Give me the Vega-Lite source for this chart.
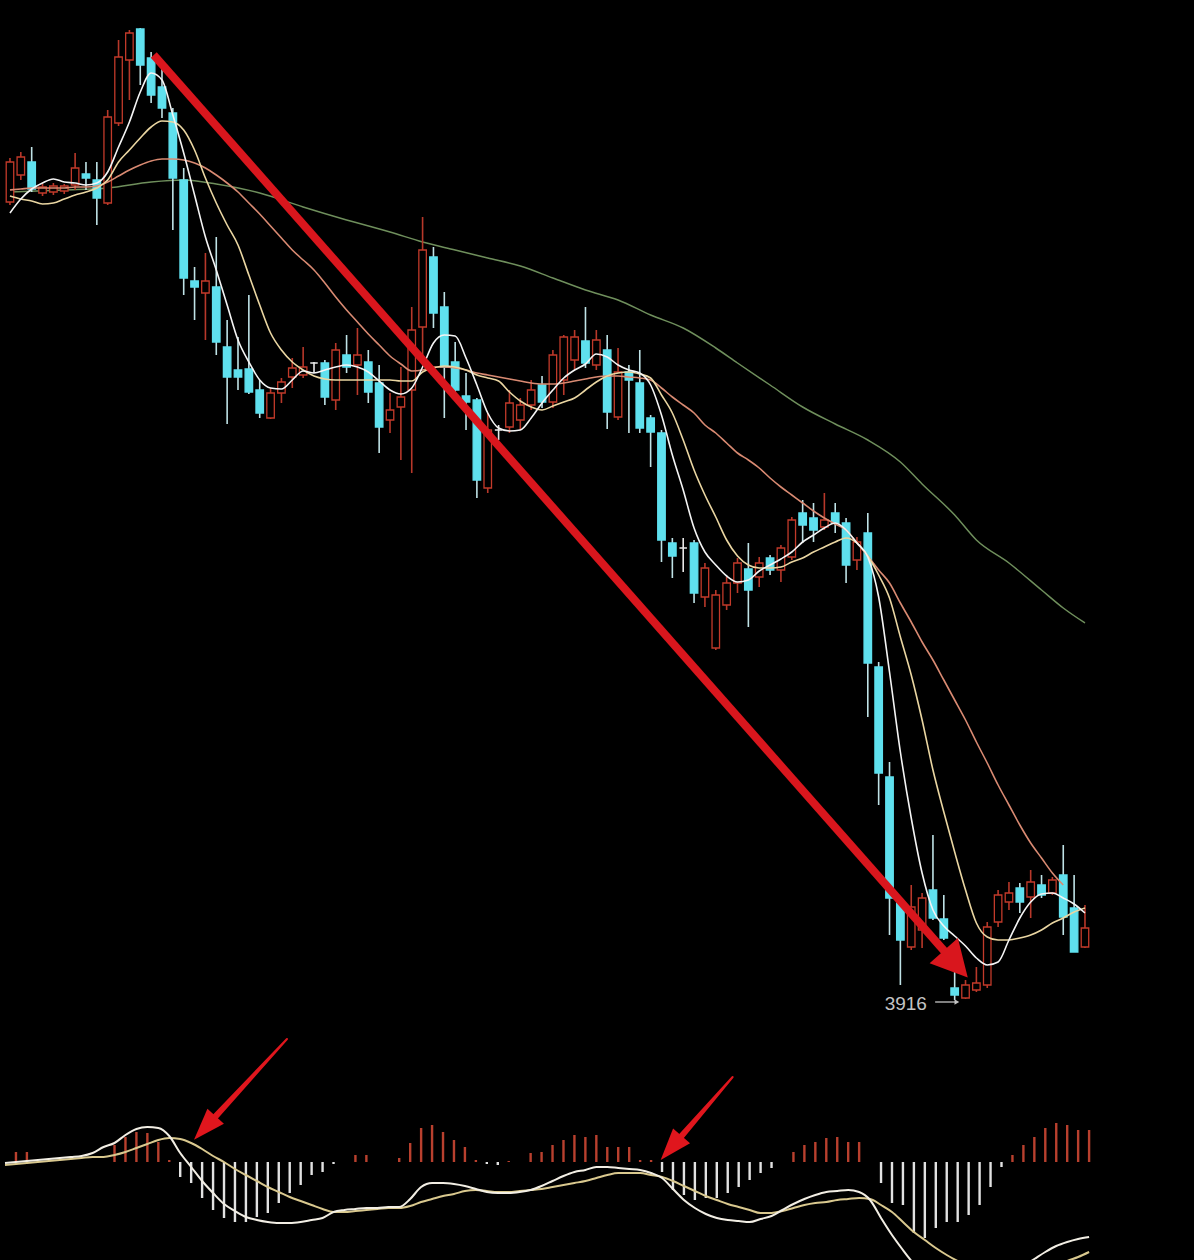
{
  "$schema": "https://vega.github.io/schema/vega-lite/v6.json",
  "background": "#000000",
  "padding": 0,
  "spacing": 0,
  "bounds": "flush",
  "config": {"view": {"stroke": null}, "axis": {"disable": true}, "legend": {"disable": true}, "concat": {"spacing": 0}},
  "datasets": {
    "k": [
      {"d":0,"o":4714,"h":4758,"l":4711,"c":4754,"m5":4703,"m10":4720,"m20":4726},
      {"d":1,"o":4741,"h":4764,"l":4736,"c":4759,"m5":4717,"m10":4717,"m20":4727},
      {"d":2,"o":4754,"h":4769,"l":4724,"c":4727,"m5":4727,"m10":4715,"m20":4728},
      {"d":3,"o":4723,"h":4732,"l":4720,"c":4729,"m5":4733,"m10":4712,"m20":4728},
      {"d":4,"o":4724,"h":4733,"l":4721,"c":4730,"m5":4737,"m10":4713,"m20":4728},
      {"d":5,"o":4725,"h":4732,"l":4722,"c":4730,"m5":4734,"m10":4717,"m20":4728},
      {"d":6,"o":4731,"h":4763,"l":4726,"c":4748,"m5":4733,"m10":4721,"m20":4729},
      {"d":7,"o":4742,"h":4754,"l":4726,"c":4738,"m5":4731,"m10":4724,"m20":4729},
      {"d":8,"o":4736,"h":4754,"l":4691,"c":4718,"m5":4733,"m10":4728,"m20":4730},
      {"d":9,"o":4713,"h":4806,"l":4711,"c":4799,"m5":4744,"m10":4736,"m20":4734},
      {"d":10,"o":4793,"h":4876,"l":4790,"c":4859,"m5":4769,"m10":4754,"m20":4740},
      {"d":11,"o":4856,"h":4886,"l":4816,"c":4883,"m5":4794,"m10":4766,"m20":4746},
      {"d":12,"o":4887,"h":4888,"l":4831,"c":4851,"m5":4824,"m10":4778,"m20":4751},
      {"d":13,"o":4858,"h":4864,"l":4813,"c":4821,"m5":4843,"m10":4789,"m20":4755},
      {"d":14,"o":4829,"h":4854,"l":4798,"c":4808,"m5":4836,"m10":4795,"m20":4757},
      {"d":15,"o":4803,"h":4808,"l":4686,"c":4738,"m5":4801,"m10":4794,"m20":4757},
      {"d":16,"o":4736,"h":4748,"l":4621,"c":4638,"m5":4763,"m10":4786,"m20":4756},
      {"d":17,"o":4635,"h":4649,"l":4596,"c":4629,"m5":4721,"m10":4766,"m20":4753},
      {"d":18,"o":4623,"h":4663,"l":4576,"c":4635,"m5":4679,"m10":4738,"m20":4748},
      {"d":19,"o":4629,"h":4679,"l":4561,"c":4574,"m5":4646,"m10":4713,"m20":4741},
      {"d":20,"o":4569,"h":4596,"l":4492,"c":4539,"m5":4611,"m10":4691,"m20":4733},
      {"d":21,"o":4546,"h":4579,"l":4526,"c":4539,"m5":4576,"m10":4671,"m20":4724},
      {"d":22,"o":4547,"h":4621,"l":4522,"c":4524,"m5":4554,"m10":4641,"m20":4713},
      {"d":23,"o":4526,"h":4536,"l":4498,"c":4503,"m5":4536,"m10":4611,"m20":4702},
      {"d":24,"o":4498,"h":4528,"l":4497,"c":4523,"m5":4528,"m10":4583,"m20":4690},
      {"d":25,"o":4523,"h":4538,"l":4513,"c":4534,"m5":4527,"m10":4566,"m20":4678},
      {"d":26,"o":4539,"h":4558,"l":4528,"c":4548,"m5":4536,"m10":4554,"m20":4666},
      {"d":27,"o":4541,"h":4569,"l":4538,"c":4549,"m5":4545,"m10":4546,"m20":4656},
      {"d":28,"o":4553,"h":4554,"l":4543,"c":4553,"m5":4543,"m10":4540,"m20":4646},
      {"d":29,"o":4553,"h":4556,"l":4511,"c":4519,"m5":4546,"m10":4537,"m20":4633},
      {"d":30,"o":4516,"h":4573,"l":4506,"c":4566,"m5":4549,"m10":4536,"m20":4619},
      {"d":31,"o":4561,"h":4581,"l":4543,"c":4549,"m5":4551,"m10":4536,"m20":4606},
      {"d":32,"o":4551,"h":4588,"l":4521,"c":4561,"m5":4549,"m10":4536,"m20":4594},
      {"d":33,"o":4554,"h":4566,"l":4513,"c":4524,"m5":4544,"m10":4536,"m20":4582},
      {"d":34,"o":4533,"h":4551,"l":4463,"c":4489,"m5":4535,"m10":4536,"m20":4571},
      {"d":35,"o":4496,"h":4523,"l":4483,"c":4506,"m5":4526,"m10":4536,"m20":4560},
      {"d":36,"o":4509,"h":4549,"l":4456,"c":4519,"m5":4522,"m10":4535,"m20":4552},
      {"d":37,"o":4526,"h":4609,"l":4443,"c":4586,"m5":4528,"m10":4535,"m20":4545},
      {"d":38,"o":4589,"h":4699,"l":4559,"c":4666,"m5":4549,"m10":4544,"m20":4546},
      {"d":39,"o":4659,"h":4669,"l":4588,"c":4603,"m5":4573,"m10":4548,"m20":4549},
      {"d":40,"o":4609,"h":4624,"l":4498,"c":4549,"m5":4581,"m10":4550,"m20":4549},
      {"d":41,"o":4554,"h":4574,"l":4524,"c":4526,"m5":4580,"m10":4549,"m20":4548},
      {"d":42,"o":4520,"h":4543,"l":4486,"c":4514,"m5":4558,"m10":4546,"m20":4546},
      {"d":43,"o":4516,"h":4518,"l":4418,"c":4436,"m5":4531,"m10":4541,"m20":4543},
      {"d":44,"o":4428,"h":4503,"l":4423,"c":4486,"m5":4503,"m10":4538,"m20":4541},
      {"d":45,"o":4486,"h":4491,"l":4476,"c":4486,"m5":4488,"m10":4535,"m20":4539},
      {"d":46,"o":4489,"h":4526,"l":4483,"c":4513,"m5":4485,"m10":4524,"m20":4537},
      {"d":47,"o":4496,"h":4518,"l":4486,"c":4511,"m5":4486,"m10":4515,"m20":4535},
      {"d":48,"o":4511,"h":4536,"l":4506,"c":4526,"m5":4498,"m10":4509,"m20":4533},
      {"d":49,"o":4531,"h":4540,"l":4508,"c":4514,"m5":4513,"m10":4506,"m20":4532},
      {"d":50,"o":4514,"h":4566,"l":4508,"c":4561,"m5":4526,"m10":4510,"m20":4532},
      {"d":51,"o":4536,"h":4581,"l":4521,"c":4579,"m5":4538,"m10":4514,"m20":4533},
      {"d":52,"o":4556,"h":4586,"l":4546,"c":4579,"m5":4546,"m10":4518,"m20":4535},
      {"d":53,"o":4575,"h":4609,"l":4548,"c":4553,"m5":4552,"m10":4526,"m20":4537},
      {"d":54,"o":4551,"h":4586,"l":4546,"c":4576,"m5":4562,"m10":4534,"m20":4539},
      {"d":55,"o":4566,"h":4581,"l":4487,"c":4504,"m5":4559,"m10":4540,"m20":4540},
      {"d":56,"o":4499,"h":4568,"l":4496,"c":4544,"m5":4551,"m10":4543,"m20":4540},
      {"d":57,"o":4544,"h":4551,"l":4483,"c":4536,"m5":4546,"m10":4544,"m20":4539},
      {"d":58,"o":4533,"h":4566,"l":4483,"c":4488,"m5":4543,"m10":4542,"m20":4538},
      {"d":59,"o":4498,"h":4501,"l":4449,"c":4484,"m5":4531,"m10":4538,"m20":4536},
      {"d":60,"o":4483,"h":4486,"l":4354,"c":4376,"m5":4501,"m10":4521,"m20":4528},
      {"d":61,"o":4373,"h":4378,"l":4338,"c":4360,"m5":4461,"m10":4503,"m20":4519},
      {"d":62,"o":4368,"h":4378,"l":4344,"c":4368,"m5":4426,"m10":4476,"m20":4511},
      {"d":63,"o":4373,"h":4376,"l":4313,"c":4323,"m5":4388,"m10":4446,"m20":4503},
      {"d":64,"o":4319,"h":4353,"l":4309,"c":4348,"m5":4364,"m10":4421,"m20":4491},
      {"d":65,"o":4268,"h":4326,"l":4266,"c":4321,"m5":4351,"m10":4399,"m20":4483},
      {"d":66,"o":4311,"h":4339,"l":4306,"c":4333,"m5":4340,"m10":4376,"m20":4473},
      {"d":67,"o":4333,"h":4358,"l":4323,"c":4353,"m5":4334,"m10":4360,"m20":4463},
      {"d":68,"o":4347,"h":4373,"l":4289,"c":4326,"m5":4336,"m10":4351,"m20":4456},
      {"d":69,"o":4339,"h":4359,"l":4329,"c":4353,"m5":4345,"m10":4348,"m20":4448},
      {"d":70,"o":4358,"h":4361,"l":4341,"c":4346,"m5":4351,"m10":4348,"m20":4438},
      {"d":71,"o":4346,"h":4371,"l":4334,"c":4368,"m5":4357,"m10":4349,"m20":4429},
      {"d":72,"o":4359,"h":4399,"l":4356,"c":4396,"m5":4364,"m10":4354,"m20":4421},
      {"d":73,"o":4403,"h":4416,"l":4373,"c":4391,"m5":4374,"m10":4358,"m20":4413},
      {"d":74,"o":4398,"h":4413,"l":4374,"c":4386,"m5":4381,"m10":4364,"m20":4405},
      {"d":75,"o":4389,"h":4423,"l":4386,"c":4396,"m5":4388,"m10":4369,"m20":4398},
      {"d":76,"o":4403,"h":4413,"l":4383,"c":4393,"m5":4393,"m10":4374,"m20":4392},
      {"d":77,"o":4393,"h":4398,"l":4333,"c":4351,"m5":4386,"m10":4378,"m20":4386},
      {"d":78,"o":4356,"h":4379,"l":4346,"c":4374,"m5":4373,"m10":4373,"m20":4373},
      {"d":79,"o":4383,"h":4403,"l":4199,"c":4253,"m5":4359,"m10":4360,"m20":4360},
      {"d":80,"o":4249,"h":4254,"l":4111,"c":4143,"m5":4319,"m10":4341,"m20":4346},
      {"d":81,"o":4139,"h":4154,"l":3981,"c":4018,"m5":4244,"m10":4318,"m20":4333},
      {"d":82,"o":4013,"h":4016,"l":3931,"c":3976,"m5":4164,"m10":4279,"m20":4313},
      {"d":83,"o":3969,"h":4031,"l":3966,"c":4009,"m5":4098,"m10":4241,"m20":4294},
      {"d":84,"o":3986,"h":4023,"l":3968,"c":4018,"m5":4043,"m10":4196,"m20":4274},
      {"d":85,"o":4026,"h":4081,"l":3996,"c":3998,"m5":4006,"m10":4146,"m20":4256},
      {"d":86,"o":3997,"h":4021,"l":3976,"c":3978,"m5":3990,"m10":4104,"m20":4236},
      {"d":87,"o":3928,"h":3944,"l":3916,"c":3921,"m5":3980,"m10":4064,"m20":4216},
      {"d":88,"o":3918,"h":3936,"l":3917,"c":3931,"m5":3970,"m10":4026,"m20":4196},
      {"d":89,"o":3926,"h":3949,"l":3924,"c":3933,"m5":3958,"m10":3993,"m20":4174},
      {"d":90,"o":3931,"h":3994,"l":3928,"c":3989,"m5":3951,"m10":3979,"m20":4153},
      {"d":91,"o":3994,"h":4026,"l":3989,"c":4021,"m5":3954,"m10":3976,"m20":4131},
      {"d":92,"o":4014,"h":4034,"l":4006,"c":4023,"m5":3976,"m10":3976,"m20":4111},
      {"d":93,"o":4028,"h":4033,"l":4003,"c":4014,"m5":3998,"m10":3978,"m20":4091},
      {"d":94,"o":4019,"h":4046,"l":3998,"c":4034,"m5":4014,"m10":3981,"m20":4073},
      {"d":95,"o":4031,"h":4041,"l":4018,"c":4021,"m5":4022,"m10":3986,"m20":4058},
      {"d":96,"o":4023,"h":4039,"l":4021,"c":4036,"m5":4023,"m10":3993,"m20":4043},
      {"d":97,"o":4041,"h":4071,"l":3981,"c":3999,"m5":4018,"m10":3998,"m20":4031},
      {"d":98,"o":4008,"h":4041,"l":3964,"c":3964,"m5":4012,"m10":4004,"m20":null},
      {"d":99,"o":3969,"h":4011,"l":3968,"c":3988,"m5":4003,"m10":4008,"m20":null}
    ],
    "m60": [
      {"d":0,"v":4724},{"d":5,"v":4726},{"d":9,"v":4728},{"d":13,"v":4734},{"d":16,"v":4736},
      {"d":19,"v":4732},{"d":23,"v":4723},{"d":27,"v":4709},{"d":31,"v":4696},{"d":35,"v":4684},
      {"d":38,"v":4674},{"d":41,"v":4666},{"d":44,"v":4658},{"d":47,"v":4650},{"d":50,"v":4638},
      {"d":53,"v":4626},{"d":56,"v":4616},{"d":59,"v":4601},{"d":62,"v":4588},{"d":65,"v":4568},
      {"d":67,"v":4553},{"d":70,"v":4531},{"d":73,"v":4509},{"d":76,"v":4492},{"d":79,"v":4476},
      {"d":82,"v":4454},{"d":84,"v":4432},{"d":87,"v":4401},{"d":89,"v":4376},{"d":92,"v":4353},
      {"d":95,"v":4326},{"d":97,"v":4308},{"d":99,"v":4293}
    ],
    "macd": [
      {"d":0,"h":null,"f":-1,"e":-3},{"d":1,"h":10,"f":0,"e":-2},{"d":2,"h":10,"f":1,"e":-1},
      {"d":3,"h":null,"f":2,"e":0},{"d":4,"h":null,"f":3,"e":1},{"d":5,"h":null,"f":4,"e":2},
      {"d":6,"h":null,"f":5,"e":3},{"d":7,"h":null,"f":6,"e":4},{"d":8,"h":null,"f":9,"e":5},
      {"d":9,"h":null,"f":15,"e":5},{"d":10,"h":17,"f":19,"e":7},{"d":11,"h":25,"f":27,"e":10},
      {"d":12,"h":30,"f":33,"e":14},{"d":13,"h":29,"f":35,"e":18},{"d":14,"h":20,"f":34,"e":22},
      {"d":15,"h":2,"f":26,"e":24},{"d":16,"h":-15,"f":9,"e":23},{"d":17,"h":-21,"f":-5,"e":19},
      {"d":18,"h":-36,"f":-19,"e":13},{"d":19,"h":-48,"f":-31,"e":6},{"d":20,"h":-56,"f":-42,"e":0},
      {"d":21,"h":-60,"f":-49,"e":-7},{"d":22,"h":-60,"f":-55,"e":-13},{"d":23,"h":-55,"f":-58,"e":-19},
      {"d":24,"h":-51,"f":-60,"e":-25},{"d":25,"h":-41,"f":-61,"e":-30},{"d":26,"h":-31,"f":-61,"e":-35},
      {"d":27,"h":-23,"f":-60,"e":-39},{"d":28,"h":-13,"f":-58,"e":-43},{"d":29,"h":-10,"f":-56,"e":-47},
      {"d":30,"h":-2,"f":-50,"e":-50},{"d":31,"h":null,"f":-48,"e":-50},{"d":32,"h":7,"f":-47,"e":-49},
      {"d":33,"h":7,"f":-46,"e":-48},{"d":34,"h":null,"f":-46,"e":-47},{"d":35,"h":null,"f":-45,"e":-46},
      {"d":36,"h":4,"f":-45,"e":-46},{"d":37,"h":19,"f":-37,"e":-44},{"d":38,"h":34,"f":-25,"e":-40},
      {"d":39,"h":37,"f":-21,"e":-37},{"d":40,"h":30,"f":-21,"e":-34},{"d":41,"h":22,"f":-22,"e":-32},
      {"d":42,"h":15,"f":-24,"e":-29},{"d":43,"h":2,"f":-27,"e":-28},{"d":44,"h":-2,"f":-30,"e":-29},
      {"d":45,"h":-3,"f":-31,"e":-30},{"d":46,"h":1,"f":-31,"e":-30},{"d":47,"h":null,"f":-30,"e":-29},
      {"d":48,"h":9,"f":-28,"e":-28},{"d":49,"h":10,"f":-24,"e":-27},{"d":50,"h":17,"f":-19,"e":-25},
      {"d":51,"h":22,"f":-14,"e":-23},{"d":52,"h":27,"f":-10,"e":-21},{"d":53,"h":25,"f":-8,"e":-19},
      {"d":54,"h":27,"f":-5,"e":-16},{"d":55,"h":15,"f":-5,"e":-13},{"d":56,"h":15,"f":-6,"e":-11},
      {"d":57,"h":15,"f":-7,"e":-11},{"d":58,"h":2,"f":-8,"e":-11},{"d":59,"h":2,"f":-11,"e":-13},
      {"d":60,"h":-10,"f":-16,"e":-15},{"d":61,"h":-28,"f":-27,"e":-19},{"d":62,"h":-33,"f":-38,"e":-24},
      {"d":63,"h":-38,"f":-46,"e":-29},{"d":64,"h":-36,"f":-52,"e":-34},{"d":65,"h":-36,"f":-56,"e":-38},
      {"d":66,"h":-31,"f":-58,"e":-42},{"d":67,"h":-25,"f":-59,"e":-45},{"d":68,"h":-18,"f":-60,"e":-48},
      {"d":69,"h":-11,"f":-57,"e":-51},{"d":70,"h":-6,"f":-54,"e":-51},{"d":71,"h":null,"f":-48,"e":-49},
      {"d":72,"h":10,"f":-42,"e":-46},{"d":73,"h":17,"f":-37,"e":-43},{"d":74,"h":20,"f":-33,"e":-41},
      {"d":75,"h":24,"f":-30,"e":-40},{"d":76,"h":25,"f":-29,"e":-38},{"d":77,"h":20,"f":-28,"e":-37},
      {"d":78,"h":20,"f":-30,"e":-36},{"d":79,"h":null,"f":-38,"e":-37},{"d":80,"h":-21,"f":-56,"e":-43},
      {"d":81,"h":-41,"f":-73,"e":-50},{"d":82,"h":-43,"f":-88,"e":-60},{"d":83,"h":-71,"f":-102,"e":-70},
      {"d":84,"h":-76,"f":-114,"e":-78},{"d":85,"h":-66,"f":-122,"e":-86},{"d":86,"h":-60,"f":-128,"e":-93},
      {"d":87,"h":-60,"f":-131,"e":-99},{"d":88,"h":-53,"f":-131,"e":-104},{"d":89,"h":-43,"f":-128,"e":-108},
      {"d":90,"h":-25,"f":-123,"e":-111},{"d":91,"h":-5,"f":-117,"e":-113},{"d":92,"h":7,"f":-110,"e":-114},
      {"d":93,"h":17,"f":-104,"e":-113},{"d":94,"h":25,"f":-97,"e":-111},{"d":95,"h":34,"f":-90,"e":-108},
      {"d":96,"h":39,"f":-84,"e":-104},{"d":97,"h":37,"f":-80,"e":-99},{"d":98,"h":32,"f":-77,"e":-95},
      {"d":99,"h":32,"f":-75,"e":-90}
    ]
  },
  "vconcat": [
    {
      "width": 1194,
      "height": 1030,
      "layer": [
        {
          "data": {"name": "m60"},
          "mark": {"type": "line", "strokeWidth": 1.5, "interpolate": "monotone", "color": "#6f8f5c"},
          "encoding": {
            "x": {"field": "d", "type": "quantitative", "scale": {"domain": [-0.457, 108.58], "nice": false, "zero": false}, "axis": null},
            "y": {"field": "v", "type": "quantitative", "scale": {"domain": [3886, 4916], "nice": false, "zero": false}, "axis": null}
          }
        },
        {
          "data": {"name": "k"},
          "mark": {"type": "rule", "strokeWidth": 1.6},
          "encoding": {
            "x": {"field": "d", "type": "quantitative", "scale": {"domain": [-0.457, 108.58], "nice": false, "zero": false}, "axis": null},
            "y": {"field": "l", "type": "quantitative", "scale": {"domain": [3886, 4916], "nice": false, "zero": false}, "axis": null},
            "y2": {"field": "h"},
            "color": {"condition": [{"test": "datum.c > datum.o", "value": "#b8382a"}, {"test": "datum.c < datum.o", "value": "#bfe2e6"}], "value": "#e8e8e8"}
          }
        },
        {
          "data": {"name": "k"},
          "mark": {"type": "bar", "orient": "vertical", "size": 7.5, "strokeWidth": 1.3},
          "encoding": {
            "x": {"field": "d", "type": "quantitative", "scale": {"domain": [-0.457, 108.58], "nice": false, "zero": false}, "axis": null},
            "y": {"field": "o", "type": "quantitative", "scale": {"domain": [3886, 4916], "nice": false, "zero": false}, "axis": null},
            "y2": {"field": "c"},
            "fill": {"condition": [{"test": "datum.c > datum.o", "value": "#000000"}, {"test": "datum.c < datum.o", "value": "#5fe0ee"}], "value": "#e8e8e8"},
            "stroke": {"condition": [{"test": "datum.c > datum.o", "value": "#c23a2a"}, {"test": "datum.c < datum.o", "value": "#5fe0ee"}], "value": "#e8e8e8"}
          }
        },
        {
          "data": {"name": "k"},
          "mark": {"type": "line", "strokeWidth": 1.6, "interpolate": "monotone", "color": "#d98a72"},
          "encoding": {
            "x": {"field": "d", "type": "quantitative"},
            "y": {"field": "m20", "type": "quantitative"}
          }
        },
        {
          "data": {"name": "k"},
          "mark": {"type": "line", "strokeWidth": 1.6, "interpolate": "monotone", "color": "#ead6a2"},
          "encoding": {
            "x": {"field": "d", "type": "quantitative"},
            "y": {"field": "m10", "type": "quantitative"}
          }
        },
        {
          "data": {"name": "k"},
          "mark": {"type": "line", "strokeWidth": 1.6, "interpolate": "monotone", "color": "#f4f4f4"},
          "encoding": {
            "x": {"field": "d", "type": "quantitative"},
            "y": {"field": "m5", "type": "quantitative"}
          }
        },
        {
          "data": {"values": [{"d1": 13.24, "p1": 4861, "d2": 87.1, "p2": 3952}]},
          "mark": {"type": "rule", "strokeWidth": 8, "color": "#d9161d", "strokeCap": "butt"},
          "encoding": {
            "x": {"field": "d1", "type": "quantitative"},
            "y": {"field": "p1", "type": "quantitative"},
            "x2": {"field": "d2"},
            "y2": {"field": "p2"}
          }
        },
        {
          "data": {"values": [{"d": 87.1, "p": 3952}]},
          "mark": {"type": "point", "filled": true, "shape": "M1,0L-1,-1.05L-1,1.05Z", "size": 1300, "angle": 48.3, "color": "#d9161d", "opacity": 1},
          "encoding": {
            "x": {"field": "d", "type": "quantitative"},
            "y": {"field": "p", "type": "quantitative"}
          }
        },
        {
          "data": {"values": [{"d1": 85.2, "d2": 87.2, "p": 3914}]},
          "mark": {"type": "rule", "strokeWidth": 1.3, "color": "#c4c4c4"},
          "encoding": {
            "x": {"field": "d1", "type": "quantitative"},
            "x2": {"field": "d2"},
            "y": {"field": "p", "type": "quantitative"}
          }
        },
        {
          "data": {"values": [{"d": 87.2, "p": 3914}]},
          "mark": {"type": "point", "filled": true, "shape": "triangle-right", "size": 30, "color": "#c4c4c4", "opacity": 1},
          "encoding": {
            "x": {"field": "d", "type": "quantitative"},
            "y": {"field": "p", "type": "quantitative"}
          }
        },
        {
          "data": {"values": [{"d": 82.5, "p": 3912, "t": "3916"}]},
          "mark": {"type": "text", "font": "Liberation Sans", "fontSize": 19, "color": "#c4c4c4", "align": "center", "baseline": "middle"},
          "encoding": {
            "x": {"field": "d", "type": "quantitative"},
            "y": {"field": "p", "type": "quantitative"},
            "text": {"field": "t"}
          }
        }
      ]
    },
    {
      "width": 1194,
      "height": 230,
      "layer": [
        {
          "mark": {"type": "rule", "strokeWidth": 1.5, "color": "#5c1616"},
          "encoding": {
            "y": {"datum": 130, "type": "quantitative", "scale": {"domain": [-98, 132], "nice": false, "zero": false}, "axis": null}
          }
        },
        {
          "data": {"name": "macd"},
          "transform": [{"filter": "isValid(datum.h)"}],
          "mark": {"type": "rule", "strokeWidth": 2.4},
          "encoding": {
            "x": {"field": "d", "type": "quantitative", "scale": {"domain": [-0.457, 108.58], "nice": false, "zero": false}, "axis": null},
            "y": {"field": "h", "type": "quantitative"},
            "y2": {"datum": 0},
            "color": {"condition": {"test": "datum.h > 0", "value": "#b9402e"}, "value": "#e2e2e2"}
          }
        },
        {
          "data": {"name": "macd"},
          "mark": {"type": "line", "strokeWidth": 2, "interpolate": "monotone", "color": "#d9c88e", "clip": true},
          "encoding": {
            "x": {"field": "d", "type": "quantitative"},
            "y": {"field": "e", "type": "quantitative"}
          }
        },
        {
          "data": {"name": "macd"},
          "mark": {"type": "line", "strokeWidth": 2, "interpolate": "monotone", "color": "#f2eee4", "clip": true},
          "encoding": {
            "x": {"field": "d", "type": "quantitative"},
            "y": {"field": "f", "type": "quantitative"}
          }
        },
        {
          "data": {"values": [
            {"g": "a", "d": 25.75, "v": 123, "w": 2},
            {"g": "a", "d": 18.25, "v": 34, "w": 7},
            {"g": "b", "d": 66.45, "v": 85, "w": 2},
            {"g": "b", "d": 60.83, "v": 14, "w": 7}
          ]},
          "mark": {"type": "trail", "color": "#e0161d"},
          "encoding": {
            "x": {"field": "d", "type": "quantitative"},
            "y": {"field": "v", "type": "quantitative"},
            "detail": {"field": "g"},
            "size": {"field": "w", "type": "quantitative", "scale": null}
          }
        },
        {
          "data": {"values": [
            {"d": 18.25, "v": 34, "a": 132.6},
            {"d": 60.83, "v": 14, "a": 130.8}
          ]},
          "mark": {"type": "point", "filled": true, "shape": "M1,0L-1,-0.7L-1,0.7Z", "size": 1024, "color": "#e0161d", "opacity": 1},
          "encoding": {
            "x": {"field": "d", "type": "quantitative"},
            "y": {"field": "v", "type": "quantitative"},
            "angle": {"field": "a", "type": "quantitative", "scale": null}
          }
        }
      ]
    }
  ]
}
